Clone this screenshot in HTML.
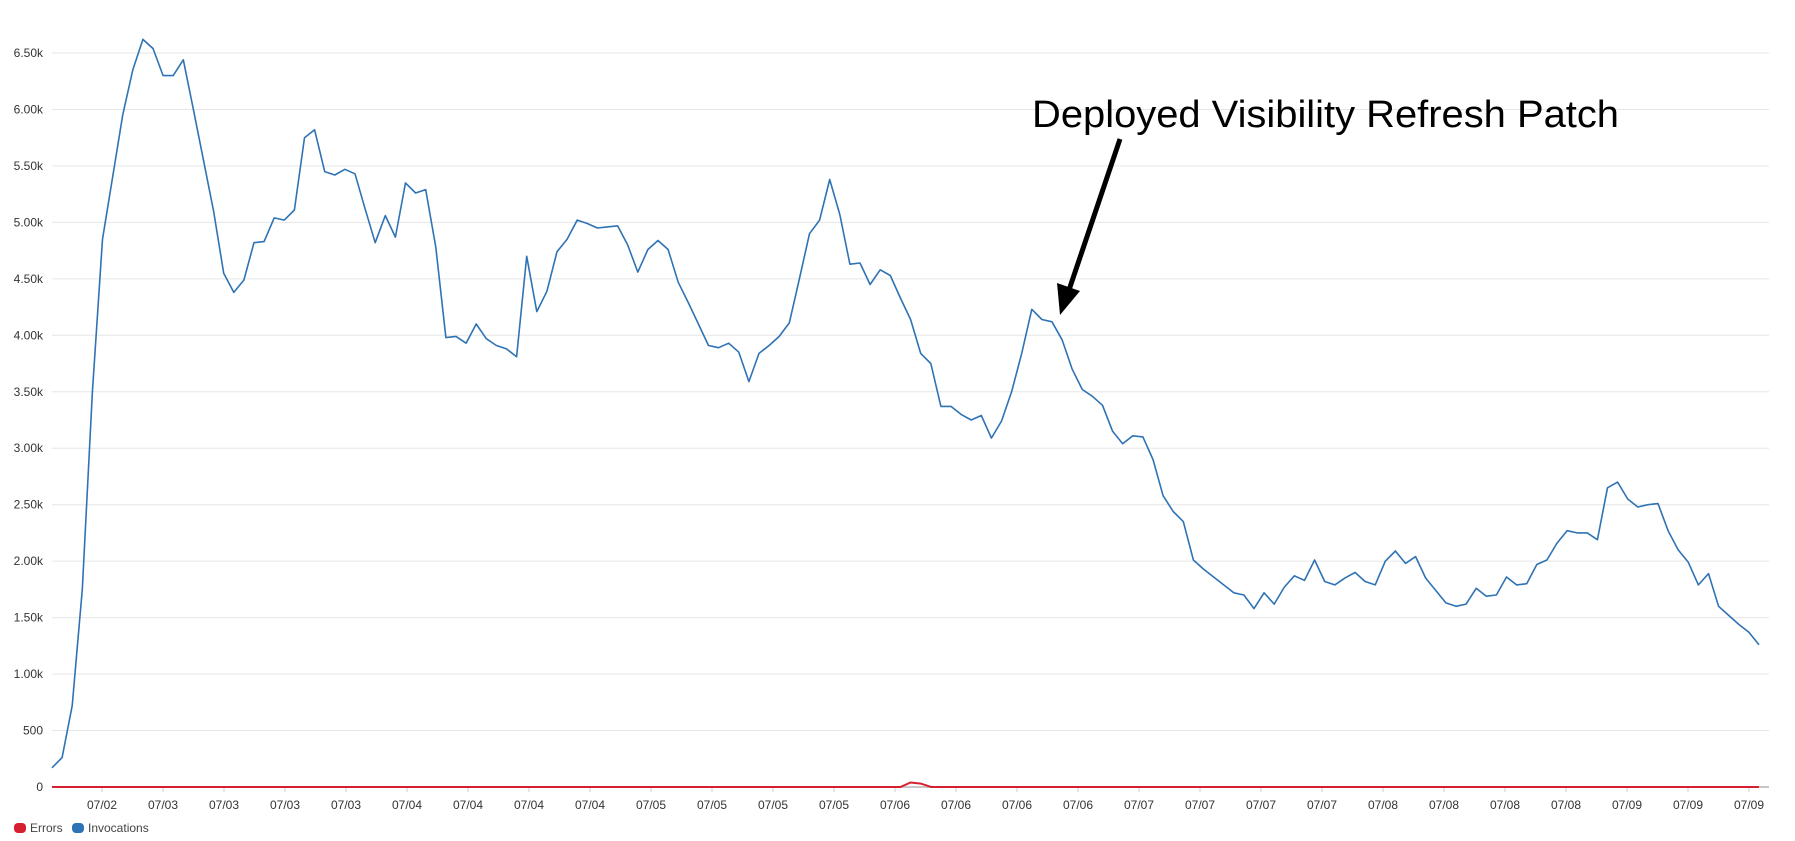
<!DOCTYPE html>
<html><head><meta charset="utf-8"><style>
html,body{margin:0;padding:0;background:#fff;}
svg{display:block;font-family:"Liberation Sans",sans-serif;}
</style></head><body>
<svg id="chart" width="1795" height="841" viewBox="0 0 1795 841">
<g id="grid"></g>
<g id="yticks"></g>
<g id="xticks"></g>
<g id="series"></g>
<g>
<text x="1032" y="127" font-size="38" textLength="587" lengthAdjust="spacingAndGlyphs" fill="#000">Deployed Visibility Refresh Patch</text>
<line x1="1120" y1="139" x2="1069" y2="290" stroke="#000" stroke-width="5"/>
<polygon points="1060,315 1057,283 1080,291" fill="#000"/>
</g>
<g>
<rect x="14" y="823" width="12" height="10" rx="4" fill="#d62031"/>
<text x="30" y="832" font-size="12" fill="#444">Errors</text>
<rect x="72" y="823" width="12" height="10" rx="4" fill="#2f73b4"/>
<text x="88" y="832" font-size="12" fill="#444">Invocations</text>
</g>
</svg>
<script>
const yTicks=[0,500,1000,1500,2000,2500,3000,3500,4000,4500,5000,5500,6000,6500];
const yTickLabels=["0","500","1.00k","1.50k","2.00k","2.50k","3.00k","3.50k","4.00k","4.50k","5.00k","5.50k","6.00k","6.50k"];
const xTickLabels=["07/02","07/03","07/03","07/03","07/03","07/04","07/04","07/04","07/04","07/05","07/05","07/05","07/05","07/06","07/06","07/06","07/06","07/07","07/07","07/07","07/07","07/08","07/08","07/08","07/08","07/09","07/09","07/09"];
const invocations=[170,260,720,1750,3500,4850,5400,5950,6350,6620,6540,6300,6300,6440,6000,5550,5100,4550,4380,4490,4820,4830,5040,5020,5110,5750,5820,5450,5420,5470,5430,5120,4820,5060,4870,5350,5260,5290,4780,3980,3990,3930,4100,3970,3910,3880,3810,4700,4210,4390,4740,4850,5020,4990,4950,4960,4970,4800,4560,4760,4840,4760,4470,4290,4100,3910,3890,3930,3850,3590,3840,3910,3990,4110,4500,4900,5020,5380,5070,4630,4640,4450,4580,4530,4330,4140,3840,3750,3370,3370,3300,3250,3290,3090,3240,3500,3840,4230,4140,4120,3960,3700,3520,3460,3380,3150,3040,3110,3100,2900,2580,2440,2350,2010,1930,1860,1790,1720,1700,1580,1720,1620,1770,1870,1830,2010,1820,1790,1850,1900,1820,1790,2000,2090,1980,2040,1850,1740,1630,1600,1620,1760,1690,1700,1860,1790,1800,1970,2010,2160,2270,2250,2250,2190,2650,2700,2550,2480,2500,2510,2270,2100,1990,1790,1890,1600,1520,1440,1370,1260];
const errors=[0,0,0,0,0,0,0,0,0,0,0,0,0,0,0,0,0,0,0,0,0,0,0,0,0,0,0,0,0,0,0,0,0,0,0,0,0,0,0,0,0,0,0,0,0,0,0,0,0,0,0,0,0,0,0,0,0,0,0,0,0,0,0,0,0,0,0,0,0,0,0,0,0,0,0,0,0,0,0,0,0,0,0,0,40,30,0,0,0,0,0,0,0,0,0,0,0,0,0,0,0,0,0,0,0,0,0,0,0,0,0,0,0,0,0,0,0,0,0,0,0,0,0,0,0,0,0,0,0,0,0,0,0,0,0,0,0,0,0,0,0,0,0,0,0,0,0,0,0,0,0,0,0,0,0,0,0,0,0,0,0,0,0,0,0,0,0,0];
const NS="http://www.w3.org/2000/svg";
const X0=52,X1=1759,Y0=787,YTOP=53,GRIDR=1769;
const yScale=v=>Y0-(v/6500)*(Y0-YTOP);
const xIdx=(i,n)=>X0+i*(X1-X0)/(n-1);
function mk(tag,attrs,parent){const e=document.createElementNS(NS,tag);for(const k in attrs)e.setAttribute(k,attrs[k]);parent.appendChild(e);return e;}
const grid=document.getElementById('grid'),yt=document.getElementById('yticks'),xt=document.getElementById('xticks'),ser=document.getElementById('series');
yTicks.forEach((v,i)=>{
  if(v>0){const l=mk('line',{x1:X0,x2:GRIDR,y1:yScale(v),y2:yScale(v),stroke:'#e6e6e6','stroke-width':1},grid);
  
  }
  const t=mk('text',{x:43,y:yScale(v)+4,'text-anchor':'end','font-size':12,fill:'#333'},yt);
  t.textContent=yTickLabels[i];
  
  
});
const base=mk('line',{x1:X0,x2:GRIDR,y1:Y0,y2:Y0,stroke:'#c8c8c8','stroke-width':2},xt);


xTickLabels.forEach((s,i)=>{
  const x=102+i*61;
  const tk=mk('line',{x1:x,x2:x,y1:Y0,y2:Y0+5,stroke:'#ccc'},xt);
  
  
  const t=mk('text',{x:x,y:Y0+22,'text-anchor':'middle','font-size':12,fill:'#333'},xt);
  t.textContent=s;
  
  
});
const n=invocations.length;
const errPts=errors.map((v,i)=>xIdx(i,errors.length).toFixed(1)+','+yScale(v).toFixed(1)).join(' ');
const el=mk('polyline',{points:errPts,fill:'none',stroke:'#d62031','stroke-width':2},ser);


const invPts=invocations.map((v,i)=>xIdx(i,n).toFixed(1)+','+yScale(v).toFixed(1)).join(' ');
const il=mk('polyline',{points:invPts,fill:'none',stroke:'#2f73b4','stroke-width':1.6,'stroke-linejoin':'round'},ser);


</script>
</body></html>
